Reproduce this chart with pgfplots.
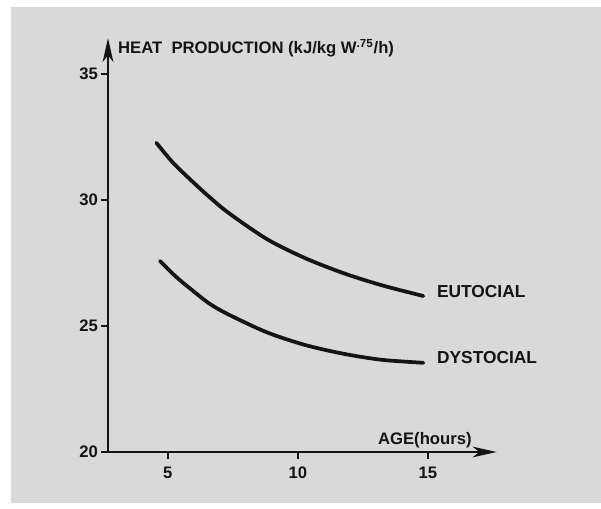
\documentclass[border=0pt]{standalone}
\usepackage{fontspec}
\setmainfont{Liberation Sans}
\usepackage{pgfplots}
\pgfplotsset{compat=1.18}
\usetikzlibrary{arrows.meta}
\definecolor{bg}{RGB}{217,217,217}
\definecolor{ink}{RGB}{20,20,20}
\pgfplotstableread{
x y
4.56 32.27
5.20 31.48
5.88 30.80
6.60 30.12
7.35 29.48
8.81 28.45
10.27 27.70
11.75 27.10
13.22 26.62
14.83 26.19
}\eutocial
\pgfplotstableread{
x y
4.70 27.58
5.30 26.97
5.88 26.47
6.60 25.89
7.35 25.45
8.81 24.75
10.27 24.25
11.75 23.90
13.22 23.66
14.83 23.54
}\dystocial
\begin{document}
\begin{tikzpicture}
\fill[bg] (-72.75pt,-38.25pt) rectangle (369.75pt,333.75pt);
\begin{axis}[
  at={(0pt,0pt)}, anchor=origin,
  scale only axis,
  width=291.5pt, height=310.5pt,
  xmin=2.7, xmax=17.65, ymin=20, ymax=36.43,
  axis lines=left,
  axis line style={line width=2pt, draw=ink, -{Stealth[length=18pt,width=8pt,inset=5pt]}},
  xtick={5,10,15}, ytick={20,25,30,35},
  tick align=outside,
  major tick length=5pt,
  tick style={line width=1.5pt, draw=ink},
  /pgf/number format/assume math mode=true,
  ticklabel style={font=\fontsize{12.5}{12.5}\selectfont\bfseries, text=ink},
  xticklabel style={yshift=-2.5pt},
  yticklabel style={xshift=1pt},
  clip=false,
]
\addplot[line width=2.8pt, draw=ink, smooth, line cap=round] table[x=x,y=y] {\eutocial};
\addplot[line width=2.8pt, draw=ink, smooth, line cap=round] table[x=x,y=y] {\dystocial};
\node[anchor=west, font=\fontsize{12.5}{12.5}\selectfont\bfseries, text=ink, inner sep=0pt] at (axis cs:3.08,36.03) {HEAT\ \ PRODUCTION (kJ/kg W\textsuperscript{.75}/h)};
\node[anchor=west, font=\fontsize{13}{13}\selectfont\bfseries, text=ink, inner sep=0pt] at (axis cs:15.35,26.35) {EUTOCIAL};
\node[anchor=west, font=\fontsize{13}{13}\selectfont\bfseries, text=ink, inner sep=0pt] at (axis cs:15.35,23.73) {DYSTOCIAL};
\node[anchor=base west, font=\fontsize{12.5}{12.5}\selectfont\bfseries, text=ink, inner sep=0pt] at (axis cs:13.08,20.28) {AGE(hours)};
\end{axis}
\pgfresetboundingbox
\path[use as bounding box] (-81pt,-42pt) rectangle (369.75pt,339pt);
\end{tikzpicture}
\end{document}
